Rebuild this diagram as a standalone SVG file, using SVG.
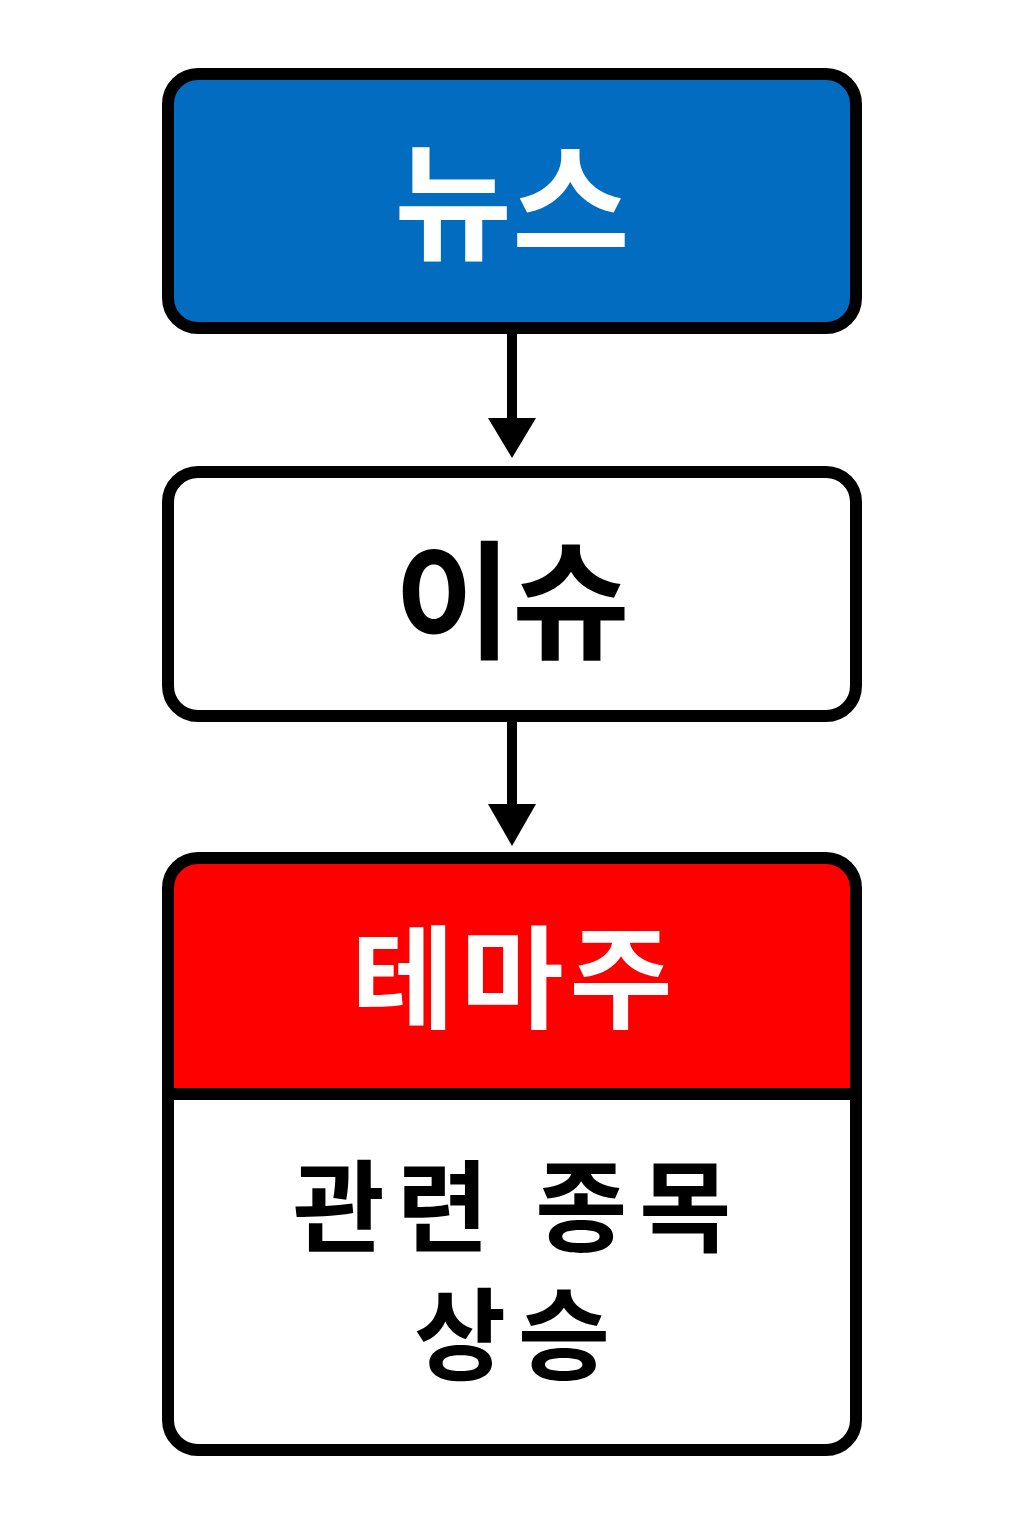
<svg xmlns="http://www.w3.org/2000/svg" width="1024" height="1536" viewBox="0 0 1024 1536">
<style>
.b{stroke:#000;stroke-width:12}
.t{font-family:"Noto Sans CJK KR","Noto Sans",sans-serif;font-weight:bold;text-anchor:middle}
.c{stroke:#000;stroke-width:10;fill:none}
</style>
<defs><clipPath id="cp"><rect x="168" y="858" width="688" height="592" rx="30"/></clipPath></defs>
<rect width="1024" height="1536" fill="#fff"/>
<g id="news"><rect class="b" x="168" y="74" width="688" height="254" rx="30" fill="#026CC1"/><text class="t" x="512" y="250" font-size="128" fill="#fff">뉴스</text></g>
<g id="issue"><rect class="b" x="168" y="472" width="688" height="244" rx="30" fill="#fff"/><text class="t" x="512" y="649" font-size="128" fill="#000">이슈</text></g>
<g id="theme">
<rect x="168" y="858" width="688" height="234" fill="#FF0000" clip-path="url(#cp)"/>
<rect class="b" x="168" y="858" width="688" height="592" rx="30" fill="none"/>
<line class="b" x1="168" y1="1094" x2="856" y2="1094"/>
<text class="t" x="515" y="1020" font-size="112" letter-spacing="6" fill="#fff">테마주</text>
<text class="t" x="518" y="1244" font-size="100" letter-spacing="12" fill="#000">관련 종목</text>
<text class="t" x="518" y="1372" font-size="100" letter-spacing="12" fill="#000">상승</text>
</g>
<g id="connectors">
<line class="c" x1="512" y1="328" x2="512" y2="422"/><polygon points="488,418 536,418 512,458"/>
<line class="c" x1="512" y1="716" x2="512" y2="808"/><polygon points="488,804 536,804 512,846"/>
</g>
</svg>
